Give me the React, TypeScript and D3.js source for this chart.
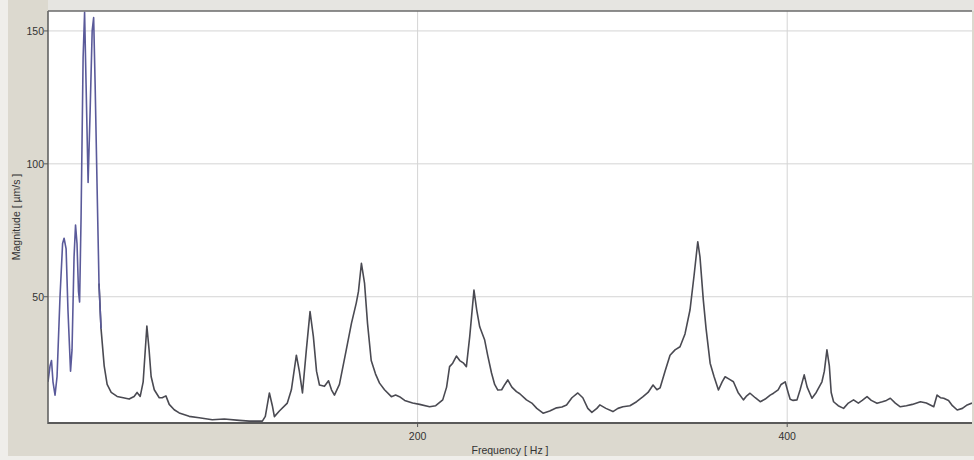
import React from "react";
import * as d3 from "d3";

const frequency: number[] = [
  0, 1.1, 1.9, 2.7, 3.8, 4.9, 6.5, 7.9, 8.7, 9.8, 10.8, 12.2, 13.0, 14.1, 14.9, 15.7, 16.5, 17.1, 17.9, 19.0,
  19.8, 20.6, 21.7, 22.8, 23.9, 24.7, 25.5, 26.6, 27.6, 28.7, 30.4, 32.0, 34.2, 37.4, 40.7, 43.9, 46.6, 48.2,
  49.9, 51.5, 53.5, 54.7, 55.8, 57.5, 60.2, 61.8, 63.8, 65.6, 68.3, 71.0, 76.4, 81.8, 88.9, 95.4, 103.5, 108.9,
  116.0, 117.6, 119.8, 121.4, 122.5, 125.2, 129.5, 131.7, 134.4, 136.0, 137.7, 139.8, 141.8, 143.6, 145.3,
  146.9, 149.6, 151.8, 153.4, 155.0, 157.7, 161.4, 164.2, 166.8, 168.0, 169.6, 171.3, 172.9, 174.9, 177.2,
  179.4, 182.1, 185.8, 188.1, 190.2, 193.0, 197.3, 201.1, 206.5, 209.8, 213.6, 215.7, 217.3, 219.0, 221.0,
  222.8, 224.9, 226.4, 228.2, 230.5, 232.0, 233.6, 236.3, 237.9, 240.0, 241.7, 243.4, 245.5, 247.2, 248.8,
  251.0, 253.5, 255.3, 258.9, 261.8, 264.5, 267.9, 271.5, 275.2, 278.1, 280.6, 283.5, 286.7, 289.4, 292.1,
  294.3, 297.0, 298.6, 301.9, 305.7, 308.4, 311.1, 314.9, 318.5, 322.0, 324.7, 327.4, 329.5, 331.2, 333.9,
  336.6, 339.3, 342.0, 344.7, 347.4, 349.6, 351.6, 352.8, 354.6, 356.1, 358.3, 360.4, 362.8, 364.8, 366.4,
  368.6, 370.9, 373.4, 376.3, 377.8, 379.9, 382.7, 385.4, 388.1, 390.8, 392.6, 395.1, 396.7, 398.9, 400.5,
  401.6, 403.2, 405.3, 407.0, 409.2, 410.8, 413.4, 415.7, 418.8, 420.1, 421.5, 422.8, 423.8, 425.1, 427.6,
  430.5, 433.1, 435.9, 438.5, 440.6, 443.2, 445.5, 448.6, 451.5, 453.7, 455.8, 458.5, 461.2, 464.5, 467.7,
  472.1, 475.3, 479.3, 481.1, 482.9, 484.7, 487.3, 489.4, 492.0, 494.8, 497.4, 500.0,
];

const magnitude: number[] = [
  18, 24, 26, 18, 13, 20, 50, 70, 72, 68, 45, 22, 30, 65, 77, 70, 52, 48, 80, 140,
  157, 130, 93, 120, 150, 155, 130, 90, 55, 38, 24, 17, 14, 12.5, 12, 11.5, 12.5, 14,
  12.5, 18, 39, 30, 20, 15, 12, 12, 12.7, 9.5, 7.5, 6.3, 5, 4.5, 3.7, 4, 3.5, 3.2,
  3.2, 5, 13.8, 9, 4.9, 7, 10, 15, 28, 22, 13.8, 30, 44.4, 35, 22,
  16.8, 16.3, 18.4, 15, 13, 17, 30, 40, 47.6, 52, 62.6, 55, 40, 26, 21,
  17.5, 15, 12.4, 13, 12.4, 11, 10, 9.5, 8.6, 9, 11.2, 16, 23.7, 25, 27.7,
  26, 25, 23.7, 35, 52.5, 45, 38.7, 33.7, 28, 21.3, 17, 14.9, 15, 17, 18.7,
  16, 14.3, 13.5, 11.2, 10, 8, 6.2, 7, 8.2, 8.5, 9.3, 12, 13.8, 12, 8,
  6.5, 8, 9.3, 8, 6.8, 8, 8.6, 9, 10.5, 12.4, 14, 16.8, 15, 15.7, 22,
  28, 30, 31.2, 36, 45, 58, 70.7, 65, 48.8, 38, 25, 20, 14.9, 18, 19.9,
  19, 18, 14, 11.2, 12.5, 13.7, 12, 10.5, 11.5, 13, 13.7, 15, 17, 18, 14,
  11.4, 11, 11.2, 15, 20.6, 16, 11.8, 14, 18, 22, 30, 24, 14, 10.5, 9,
  8, 10, 11.2, 10, 11, 12.4, 11, 9.9, 10.5, 11, 11.8, 10, 8.6, 9, 9.5,
  10.5, 10, 8.6, 13, 12, 11.8, 11, 9, 7.4, 8, 9.3, 10,
];

const xTicks: number[] = [200, 400];
const yTicks: number[] = [50, 100, 150];
const xTitle = "Frequency [ Hz ]";
const yTitle = "Magnitude [ µm/s ]";

const W = 974;
const H = 460;
const L = 48;
const R = 972;
const T = 11;
const B = 423;

export default function App() {
  const x = d3.scaleLinear().domain([0, 500]).range([L, R]);
  const y = d3.scaleLinear().domain([2.5, 157.5]).range([B, T]);
  const pts: [number, number][] = frequency.map((f, i) => [f, magnitude[i]]);
  const line = d3
    .line<[number, number]>()
    .x((d) => x(d[0]))
    .y((d) => y(d[1]));
  const bluePart = pts.filter((d) => d[0] <= 28.7);
  const grayPart = pts.filter((d) => d[0] >= 27.6);
  const font = "'Liberation Sans', Arial, sans-serif";

  return (
    <svg
      width={W}
      height={H}
      style={{ position: "absolute", left: 0, top: 0, display: "block" }}
    >
      <defs>
        <clipPath id="plotClip">
          <rect x={L} y={T} width={R - L} height={B - T} />
        </clipPath>
      </defs>
      <rect x={0} y={0} width={W} height={H} fill="#efeeea" />
      <rect x={8} y={0} width={W - 8} height={456} fill="#dcd9cf" />
      <rect x={L} y={0} width={W - L} height={T} fill="#e6e5e1" />
      <rect x={L} y={T} width={R - L} height={B - T} fill="#ffffff" />
      {xTicks.map((t) => (
        <line key={"gx" + t} x1={x(t)} x2={x(t)} y1={T} y2={B} stroke="#d4d4d4" strokeWidth={1} />
      ))}
      {yTicks.map((t) => (
        <line key={"gy" + t} x1={L} x2={R} y1={y(t)} y2={y(t)} stroke="#d4d4d4" strokeWidth={1} />
      ))}
      <g clipPath="url(#plotClip)" fill="none" strokeLinejoin="round">
        <path d={line(grayPart) || ""} stroke="#4a4a52" strokeWidth={1.6} />
        <path d={line(bluePart) || ""} stroke="#5a5a9a" strokeWidth={1.6} />
      </g>
      <line x1={L} x2={L} y1={T} y2={B + 1} stroke="#5a5a5a" strokeWidth={1.5} />
      <line x1={L} x2={R} y1={B} y2={B} stroke="#5a5a5a" strokeWidth={2} />
      <line x1={L} x2={R} y1={T} y2={T} stroke="#6a6a6a" strokeWidth={1.5} />
      {yTicks.map((t) => (
        <g key={"ty" + t}>
          <line x1={L - 4} x2={L} y1={y(t)} y2={y(t)} stroke="#555" />
          <text
            x={L - 4}
            y={y(t) + 4}
            textAnchor="end"
            fontSize={10.5}
            fontFamily={font}
            fill="#333"
          >
            {t}
          </text>
        </g>
      ))}
      {xTicks.map((t) => (
        <g key={"tx" + t}>
          <line x1={x(t)} x2={x(t)} y1={B} y2={B + 4} stroke="#555" />
          <text
            x={x(t)}
            y={440}
            textAnchor="middle"
            fontSize={10.5}
            fontFamily={font}
            fill="#333"
          >
            {t}
          </text>
        </g>
      ))}
      <text
        x={(L + R) / 2}
        y={454}
        textAnchor="middle"
        fontSize={10.5}
        fontFamily={font}
        fill="#333"
      >
        {xTitle}
      </text>
      <text
        transform={`translate(20, ${(T + B) / 2}) rotate(-90)`}
        textAnchor="middle"
        fontSize={10.5}
        fontFamily={font}
        fill="#333"
      >
        {yTitle}
      </text>
    </svg>
  );
}
